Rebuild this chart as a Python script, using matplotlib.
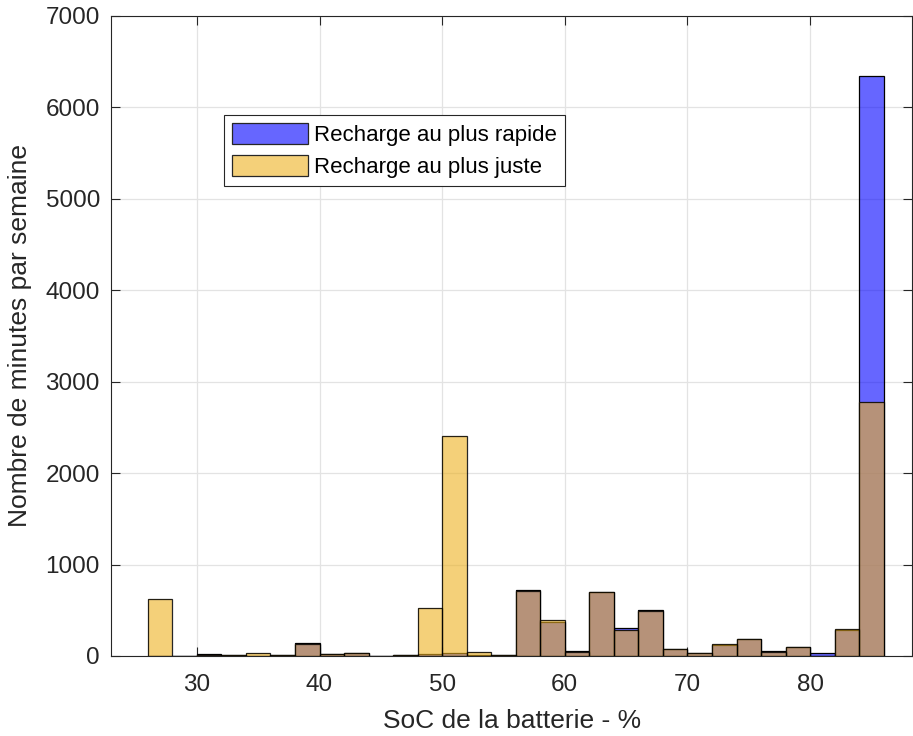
import matplotlib
matplotlib.use("Agg")
import matplotlib.pyplot as plt
import numpy as np
from matplotlib.patches import Patch

plt.rcParams['font.family'] = ['Liberation Sans', 'DejaVu Sans']

bin_edges = np.arange(26, 87, 2)
rapide = [0, 0, 18, 15, 5, 12, 146, 25, 36, 5, 15, 20, 35, 15, 15,
          720, 375, 50, 695, 310, 500, 77, 36, 120, 190, 60, 95, 29, 280, 6340]
juste = [620, 0, 15, 15, 29, 12, 135, 22, 32, 5, 15, 521, 2403, 40, 15,
         710, 390, 45, 705, 285, 490, 75, 36, 131, 190, 40, 95, 5, 290, 2782]
labels = ['Recharge au plus rapide', 'Recharge au plus juste']
xticks = [30, 40, 50, 60, 70, 80]
yticks = [0, 1000, 2000, 3000, 4000, 5000, 6000, 7000]

fig = plt.figure(figsize=(9.13, 7.36), dpi=100)
ax = fig.add_axes([0.1216, 0.1087, 0.8776, 0.8696])

ax.hist(bin_edges[:-1], bins=bin_edges, weights=rapide, color=(0, 0, 1),
        alpha=0.6, edgecolor='none', label=labels[0], zorder=2)
ax.hist(bin_edges[:-1], bins=bin_edges, weights=rapide, histtype='bar',
        facecolor='none', edgecolor='black', linewidth=0.9, zorder=2)
ax.hist(bin_edges[:-1], bins=bin_edges, weights=juste, color=(0.929, 0.694, 0.125),
        alpha=0.6, edgecolor='none', label=labels[1], zorder=3)
ax.hist(bin_edges[:-1], bins=bin_edges, weights=juste, histtype='bar',
        facecolor='none', edgecolor='black', linewidth=0.9, alpha=0.85, zorder=3)

ax.set_xlim(23, 88.33)
ax.set_ylim(0, 7000)
ax.set_xticks(xticks)
ax.set_yticks(yticks)
ax.grid(True, color='#e3e3e3', linewidth=0.9, zorder=0)
ax.set_axisbelow(True)
ax.tick_params(direction='in', length=6.5, width=0.8, top=True, right=True,
               labelsize=17.5, colors='#262626')
ax.tick_params(axis='x', pad=13)
ax.tick_params(axis='y', pad=8)
for s in ax.spines.values():
    s.set_color('#262626')
    s.set_linewidth(0.8)

ax.set_xlabel('SoC de la batterie - %', fontsize=19, color='#262626', labelpad=9)
ax.set_ylabel('Nombre de minutes par semaine', fontsize=19, color='#262626', labelpad=10)

handles = [Patch(facecolor=(0.4, 0.4, 1.0), edgecolor='#262626', linewidth=0.9),
           Patch(facecolor=(0.957, 0.816, 0.475), edgecolor='#262626', linewidth=0.9)]
leg = ax.legend(handles, labels, loc='upper left', bbox_to_anchor=(0.1413, 0.8453),
                borderaxespad=0, fontsize=16, frameon=True, fancybox=False,
                edgecolor='#262626', framealpha=1, handlelength=3.4, handleheight=1.08,
                handletextpad=0.27, borderpad=0.36, labelspacing=0.38)
leg.get_frame().set_linewidth(0.8)

fig.savefig('out.png', dpi=100)
